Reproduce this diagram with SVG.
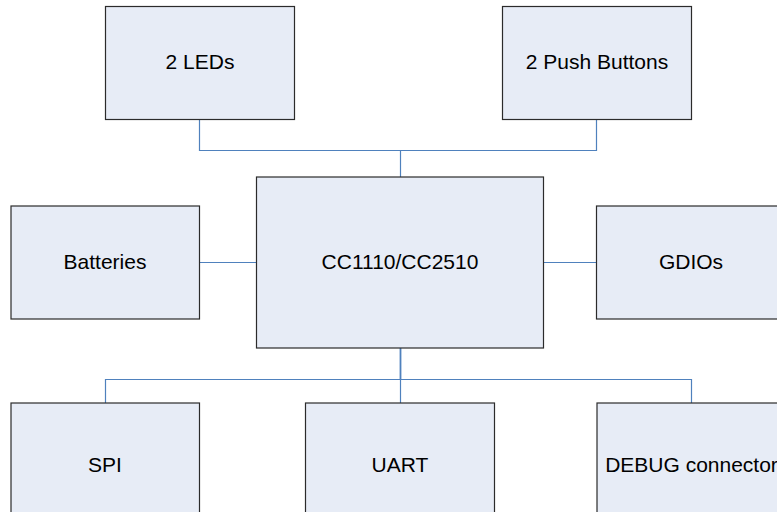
<svg xmlns="http://www.w3.org/2000/svg" width="777" height="512" viewBox="0 0 777 512">
<style>
.box{fill:#E7ECF6;stroke:#2b2b2b;stroke-width:1.2}
.lbl{font-family:"Liberation Sans",Arial,sans-serif;font-size:21px;fill:#000;text-anchor:middle}
.wire{fill:none;stroke:#4F81BD;stroke-width:1.2}
</style>
<rect width="777" height="512" fill="#fff"/>
<g id="connectors">
<path class="wire" d="M199.5 119 V150.5 H596.5 V119"/>
<path class="wire" d="M400.5 150.5 V177"/>
<path class="wire" d="M199 262.5 H256"/>
<path class="wire" d="M543 262.5 H596"/>
<path class="wire" d="M400.5 348 V379.5" style="stroke-width:1.8"/>
<path class="wire" d="M105.5 403 V379.5 H691.5 V403"/>
<path class="wire" d="M400.5 379.5 V403"/>
</g>
<g id="leds"><rect class="box" x="105.5" y="6.5" width="189" height="113"/><text class="lbl" x="200" y="69">2 LEDs</text></g>
<g id="buttons"><rect class="box" x="502.5" y="6.5" width="189" height="113"/><text class="lbl" x="597" y="69">2 Push Buttons</text></g>
<g id="cc"><rect class="box" x="256.5" y="177" width="287" height="171"/><text class="lbl" x="400" y="269">CC1110/CC2510</text></g>
<g id="batteries"><rect class="box" x="11" y="206" width="188.5" height="113"/><text class="lbl" x="105" y="269">Batteries</text></g>
<g id="gdios"><rect class="box" x="596.5" y="206" width="189" height="113"/><text class="lbl" x="691" y="269">GDIOs</text></g>
<g id="spi"><rect class="box" x="11" y="403" width="188.5" height="125"/><text class="lbl" x="105" y="472">SPI</text></g>
<g id="uart"><rect class="box" x="305.5" y="403" width="189" height="125"/><text class="lbl" x="400" y="472">UART</text></g>
<g id="debug"><rect class="box" x="597" y="403" width="189" height="125"/><text class="lbl" x="691.5" y="472">DEBUG connector</text></g>
</svg>
